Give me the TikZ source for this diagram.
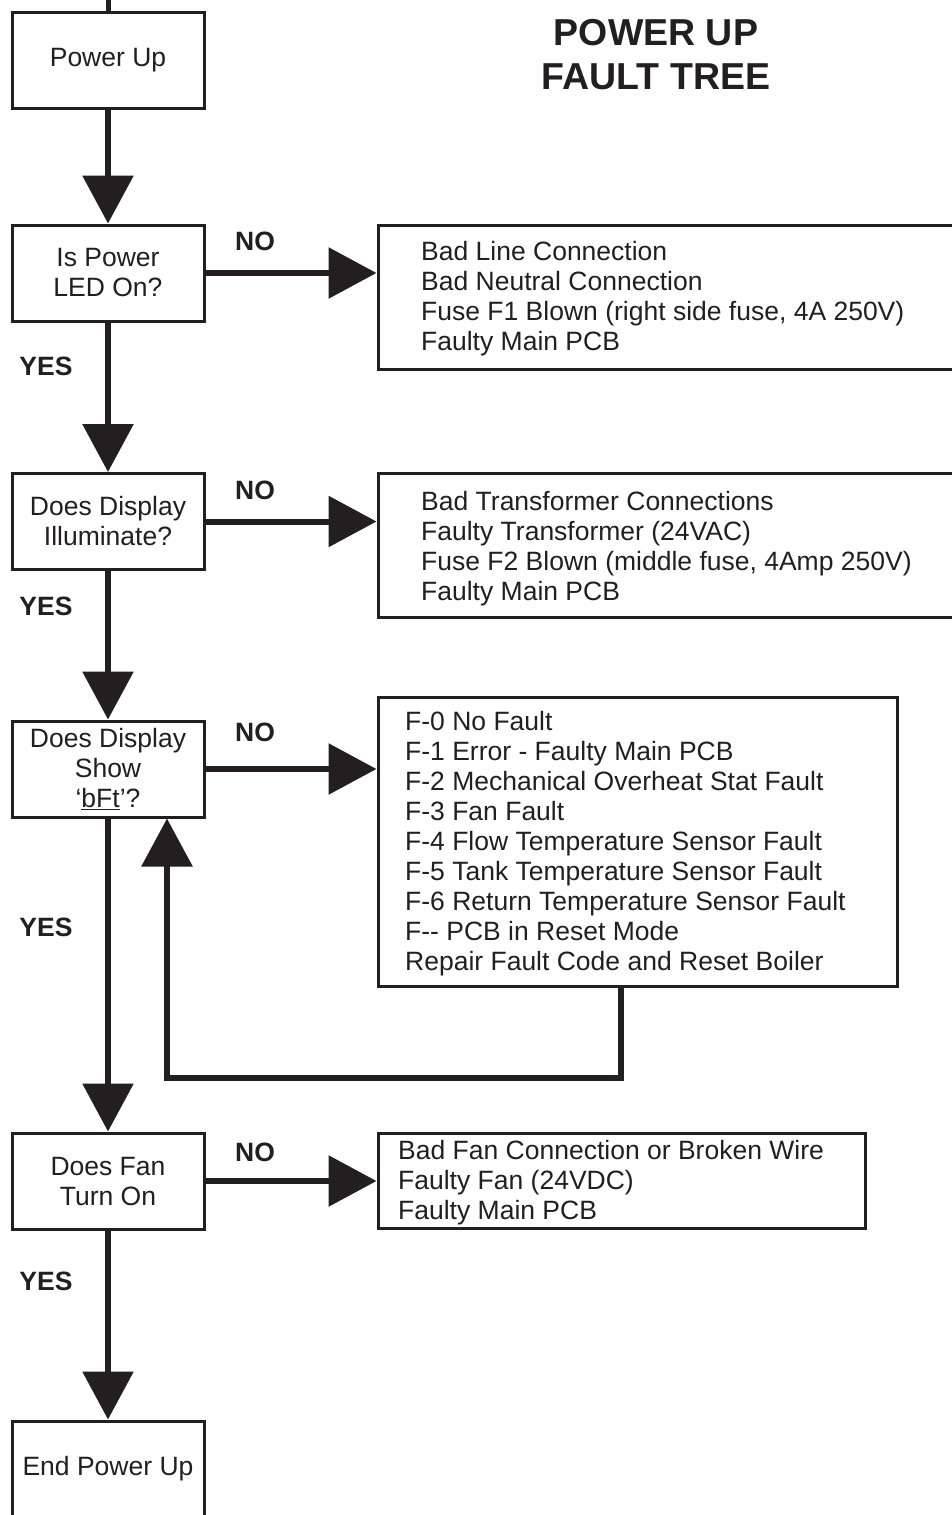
\documentclass[tikz,border=0pt]{standalone}
\usepackage{fontspec}
\setmainfont{Liberation Sans}
\usetikzlibrary{arrows.meta}
\definecolor{ink}{HTML}{231F20}
\begin{document}
\begin{tikzpicture}[x=1pt,y=-1pt,
  every node/.style={text=ink},
  qbox/.style={draw=ink, line width=3pt, minimum width=192pt, minimum height=96pt, inner sep=0pt, align=center, font=\fontsize{26.5}{30}\selectfont},
  fbox/.style={draw=ink, line width=3pt, inner sep=0pt},
  ftext/.style={anchor=west, inner sep=0pt, align=left, font=\fontsize{26.5}{30}\selectfont},
  lab/.style={font=\bfseries\fontsize{26.5}{30}\selectfont, inner sep=0pt},
  arr/.style={draw=ink, line width=6pt, -{Triangle[length=48pt,width=50pt]}},
]
\clip (0,0) rectangle (952,1515);
\fill[white] (0,0) rectangle (952,1515);

% title
\node[align=center, font=\bfseries\fontsize{37.5}{44}\selectfont] (title) at (656,55) {POWER UP\\FAULT TREE};

% decision column
\node[qbox] (pu) at (108,60) {Power Up};
\node[qbox] (q1) at (108,273) {Is Power\\LED On?};
\node[qbox] (q2) at (108,521.5) {Does Display\\Illuminate?};
\node[qbox] (q3) at (108,769) {Does Display\\Show\\‘\underline{bFt}’?};
\node[qbox] (q4) at (108,1181) {Does Fan\\Turn On};
\node[qbox] (pe) at (108,1469) {End Power Up};

% fault boxes
\node[fbox, minimum width=582pt, minimum height=144pt] (f1) at (669,297) {};
\node[ftext] (t1) at (421,298.5) {Bad Line Connection\\Bad Neutral Connection\\Fuse F1 Blown (right side fuse, 4A 250V)\\Faulty Main PCB};
\node[fbox, minimum width=582pt, minimum height=144pt] (f2) at (669,545) {};
\node[ftext] (t2) at (421,548.5) {Bad Transformer Connections\\Faulty Transformer (24VAC)\\Fuse F2 Blown (middle fuse, 4Amp 250V)\\Faulty Main PCB};
\node[fbox, minimum width=519pt, minimum height=289pt] (f3) at (637.5,841.5) {};
\node[ftext] (t3) at (405,844) {F-0 No Fault\\F-1 Error - Faulty Main PCB\\F-2 Mechanical Overheat Stat Fault\\F-3 Fan Fault\\F-4 Flow Temperature Sensor Fault\\F-5 Tank Temperature Sensor Fault\\F-6 Return Temperature Sensor Fault\\F-{}- PCB in Reset Mode\\Repair Fault Code and Reset Boiler};
\node[fbox, minimum width=487pt, minimum height=95pt] (f4) at (621.5,1180.5) {};
\node[ftext] (t4) at (398,1183) {Bad Fan Connection or Broken Wire\\Faulty Fan (24VDC)\\Faulty Main PCB};

% labels
\node[lab] (n1) at (255,241) {NO};
\node[lab] (n2) at (255,490) {NO};
\node[lab] (n3) at (255,732) {NO};
\node[lab] (n4) at (255,1152) {NO};
\node[lab] (y1) at (46,366) {YES};
\node[lab] (y2) at (46,606) {YES};
\node[lab] (y3) at (46,927) {YES};
\node[lab] (y4) at (46,1281) {YES};

% connectors
\coordinate (top) at (108,0);
\draw[draw=ink, line width=5pt] (top) -- (pu.north);
\draw[arr] (pu.south) -- (q1.north);
\draw[arr] (q1.south) -- (q2.north);
\draw[arr] (q2.south) -- (q3.north);
\draw[arr] (q3.south) -- (q4.north);
\draw[arr] (q4.south) -- (pe.north);
\draw[arr] (q1.east) -- (q1.east -| f1.west);
\draw[arr] (q2.east) -- (q2.east -| f2.west);
\draw[arr] (q3.east) -- (q3.east -| f3.west);
\draw[arr] (q4.east) -- (q4.east -| f4.west);

\coordinate (lp) at (621,0);
\coordinate (lx) at (167,0);
\coordinate (lc1) at (621,1078);
\coordinate (lc2) at (167,1078);
\draw[arr] (f3.south -| lp) -- (lc1) -- (lc2) -- (q3.south -| lx);
\end{tikzpicture}
\end{document}
